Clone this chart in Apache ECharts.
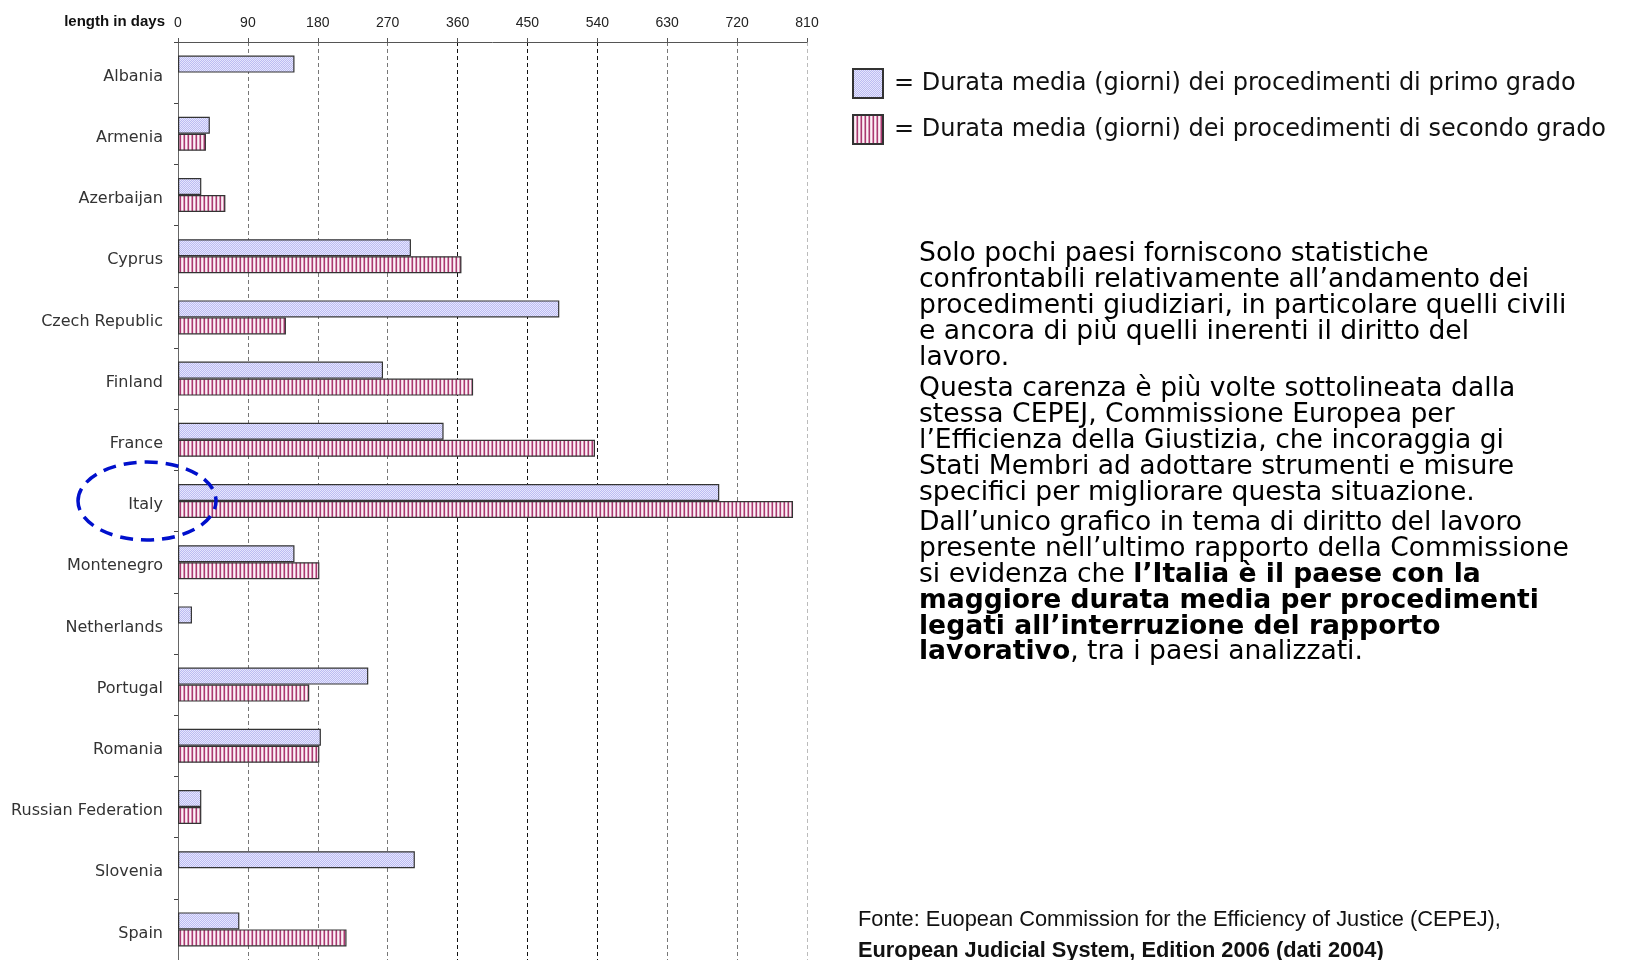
<!DOCTYPE html>
<html>
<head>
<meta charset="utf-8">
<script src="https://cdn.jsdelivr.net/npm/echarts@6/dist/echarts.min.js"></script>
<style>
html, body { margin: 0; padding: 0; background: #fff; }
#myChart { width: 1625px; height: 960px; }
</style>
</head>
<body>
<div id="myChart"></div>
<script>
const countries = ['Albania', 'Armenia', 'Azerbaijan', 'Cyprus', 'Czech Republic', 'Finland', 'France', 'Italy',
    'Montenegro', 'Netherlands', 'Portugal', 'Romania', 'Russian Federation', 'Slovenia', 'Spain'];
const primoGrado = [150, 41, 30, 300, 491, 264, 342, 697, 150, 18, 245, 184, 30, 305, 79];
const secondoGrado = [null, 36, 61, 365, 139, 380, 537, 792, 182, null, 169, 182, 30, null, 217];
const dayTicks = [0, 90, 180, 270, 360, 450, 540, 630, 720, 810];
const seriesNames = ['Durata media (giorni) dei procedimenti di primo grado',
    'Durata media (giorni) dei procedimenti di secondo grado'];

// retino a puntini (primo grado)
function dotPattern() {
    const c = document.createElement('canvas');
    c.width = 2; c.height = 2;
    const ctx = c.getContext('2d');
    ctx.fillStyle = '#bcbcf2';
    ctx.fillRect(0, 0, 2, 2);
    ctx.fillStyle = '#e6e6fd';
    ctx.fillRect(0, 0, 1, 1);
    ctx.fillRect(1, 1, 1, 1);
    return c;
}
// righe verticali (secondo grado)
function stripePattern() {
    const c = document.createElement('canvas');
    c.width = 4; c.height = 4;
    const ctx = c.getContext('2d');
    const cols = ['#a83a70', '#f2d8e5', '#fbf2f6', '#d690b2'];
    cols.forEach((col, i) => {
        ctx.fillStyle = col;
        ctx.fillRect(i, 0, 1, 4);
    });
    return c;
}

const myEchart = echarts.init(document.getElementById('myChart'));
const textFont = '"DejaVu Sans", Verdana, sans-serif';
const narrowFont = '"Liberation Sans Narrow", "Liberation Sans", sans-serif';

myEchart.setOption({
    animation: false,
    legend: {
        orient: 'vertical',
        left: 847,
        top: 63,
        itemWidth: 30,
        itemHeight: 29,
        itemGap: 15,
        icon: 'rect',
        data: seriesNames,
        formatter: name => '= ' + name,
        textStyle: { fontFamily: textFont, fontSize: 24, color: '#111', padding: [0, 0, 0, 6] }
    },
    grid: { left: 178, top: 42, width: 629, height: 920 },
    xAxis: {
        type: 'value',
        position: 'top',
        min: 0,
        max: 810,
        interval: 90,
        name: 'length in days',
        nameLocation: 'start',
        nameGap: 13,
        nameTextStyle: {
            fontFamily: narrowFont,
            fontWeight: 'bold', fontSize: 15, color: '#111',
            align: 'right', verticalAlign: 'bottom', padding: [0, 0, 13, 0]
        },
        axisLine: { show: true, lineStyle: { color: '#555', width: 1 } },
        axisTick: { show: true, length: 4, lineStyle: { color: '#555' } },
        axisLabel: {
            margin: 12,
            fontFamily: narrowFont,
            fontSize: 14, color: '#222',
            formatter: v => dayTicks.includes(v) ? String(v) : ''
        },
        splitLine: {
            show: true,
            lineStyle: {
                type: [4, 3],
                color: ['#fff', '#777', '#777', '#777', '#111', '#111', '#111', '#777', '#777', '#bbb']
            }
        }
    },
    yAxis: {
        type: 'category',
        inverse: true,
        data: countries,
        axisLine: { show: true, lineStyle: { color: '#666' } },
        axisTick: { show: true, length: 4, lineStyle: { color: '#444' } },
        axisLabel: {
            margin: 15,
            verticalAlign: 'top',
            lineHeight: 8,
            fontFamily: textFont,
            fontSize: 16, color: '#333'
        }
    },
    series: [
        {
            name: seriesNames[0],
            type: 'bar',
            barWidth: 17,
            barGap: '0%',
            data: primoGrado,
            itemStyle: { color: { image: dotPattern(), repeat: 'repeat' }, borderColor: '#333', borderWidth: 1.2 }
        },
        {
            name: seriesNames[1],
            type: 'bar',
            barWidth: 17,
            barGap: '0%',
            data: secondoGrado,
            itemStyle: { color: { image: stripePattern(), repeat: 'repeat' }, borderColor: '#333', borderWidth: 1.2 }
        }
    ],
    graphic: [
        {
            type: 'text', id: 'p1', left: 919, top: 241,
            style: {
                text: 'Solo pochi paesi forniscono statistiche\nconfrontabili relativamente all’andamento dei\nprocedimenti giudiziari, in particolare quelli civili\ne ancora di più quelli inerenti il diritto del\nlavoro.',
                font: '26.6px ' + textFont, lineHeight: 25.8, fill: '#000'
            }
        },
        {
            type: 'text', id: 'p2', left: 919, top: 376,
            style: {
                text: 'Questa carenza è più volte sottolineata dalla\nstessa CEPEJ, Commissione Europea per\nl’Efficienza della Giustizia, che incoraggia gi\nStati Membri ad adottare strumenti e misure\nspecifici per migliorare questa situazione.',
                font: '26.6px ' + textFont, lineHeight: 25.8, fill: '#000'
            }
        },
        {
            type: 'text', id: 'p3', left: 919, top: 510,
            style: {
                text: '{n|Dall’unico grafico in tema di diritto del lavoro}\n{n|presente nell’ultimo rapporto della Commissione}\n{n|si evidenza che }{b|l’Italia è il paese con la}\n{b|maggiore durata media per procedimenti}\n{b|legati all’interruzione del rapporto}\n{b|lavorativo}{n|, tra i paesi analizzati.}',
                rich: {
                    n: { fontFamily: textFont, fontSize: 26.6, lineHeight: 25.8, fill: '#000' },
                    b: { fontFamily: textFont, fontSize: 26.6, fontWeight: 'bold', lineHeight: 25.8, fill: '#000' }
                }
            }
        },
        {
            type: 'text', id: 'src', left: 858, top: 909,
            style: {
                text: '{n|Fonte: Euopean Commission for the Efficiency of Justice (CEPEJ),}\n{b|European Judicial System, Edition 2006 (dati 2004)}',
                rich: {
                    n: { fontFamily: narrowFont, fontSize: 21.8, lineHeight: 31, fill: '#111' },
                    b: { fontFamily: narrowFont, fontSize: 21.8, fontWeight: 'bold', lineHeight: 31, fill: '#111' }
                }
            }
        }
    ]
});

// cerchio tratteggiato attorno all'etichetta "Italy"
const italyY = myEchart.convertToPixel({ yAxisIndex: 0 }, 'Italy');
myEchart.setOption({
    graphic: [{
        type: 'ellipse', id: 'italyMark',
        shape: { cx: 147, cy: italyY, rx: 69, ry: 39 },
        style: { fill: 'none', stroke: '#0010cc', lineWidth: 3.5, lineDash: [13, 8] },
        z: 100
    }]
});

window.addEventListener('resize', function () {
    myEchart.resize();
});
</script>
</body>
</html>
